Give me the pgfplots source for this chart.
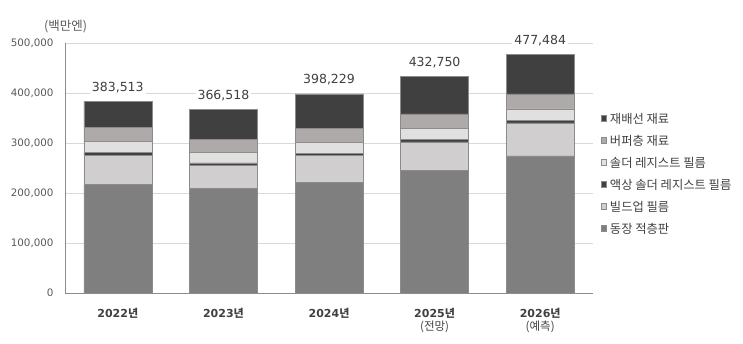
\documentclass[border=0pt]{standalone}
\usepackage{fontspec}
\setmainfont{DejaVu Sans}
\newfontfamily\kr{Noto Sans CJK KR}
\usepackage{pgfplots}
\usepackage{pgfplotstable}
\pgfplotsset{compat=1.18}
\definecolor{cBase}{HTML}{7F7F7F}
\definecolor{cBuild}{HTML}{D0CECE}
\definecolor{cLiquid}{HTML}{404040}
\definecolor{cFilm}{HTML}{E0E0E0}
\definecolor{cBuffer}{HTML}{AEAAAA}
\definecolor{cWiring}{HTML}{404040}
\definecolor{cBorder}{HTML}{8C8C8C}
\definecolor{cText}{HTML}{404040}
\definecolor{cTick}{HTML}{595959}
\definecolor{cGrid}{HTML}{D9D9D9}

% lift = half of the wiring segment height (in pt) + 14pt, to set the total above the bar
\pgfplotstableread{
x base buildup liquid film buffer wiring total lift
0 216600 58800 5200 22000 28800 52113 383,513 27.03
1 210000 45400 4600 21400 26000 59118 366,518 28.78
2 222000 52600 4000 22800 28000 68829 398,229 31.21
3 244600 57400 5400 22000 28600 74750 432,750 32.69
4 274000 66000 4600 23400 30000 79484 477,484 33.87
}\datatable

\begin{document}
\begin{tikzpicture}[x=1pt,y=1pt]
\useasboundingbox (0,0) rectangle (743,343);
\node[font=\kr\fontsize{12.5}{13}\selectfont, text=cTick] at (65.5,316) {(백만엔)};
\begin{axis}[
  at={(65pt,50pt)}, anchor=south west,
  scale only axis, width=528pt, height=250pt,
  ybar stacked, bar width=68pt,
  xmin=-0.5, xmax=4.5, ymin=0, ymax=500000,
  ytick={0,100000,200000,300000,400000,500000},
  yticklabels={0,{100,000},{200,000},{300,000},{400,000},{500,000}},
  xtick={0,1,2,3,4},
  xticklabels={
    {\bfseries 2022{\kr 년}},
    {\bfseries 2023{\kr 년}},
    {\bfseries 2024{\kr 년}},
    {\bfseries 2025{\kr 년}}\\{\kr\fontsize{11.5}{12.5}\selectfont (전망)},
    {\bfseries 2026{\kr 년}}\\{\kr\fontsize{11.5}{12.5}\selectfont (예측)}},
  xticklabel style={align=center, font=\fontsize{11}{12.5}\selectfont, text=cText, yshift=-12pt},
  yticklabel style={font=\fontsize{10.3}{12}\selectfont, text=cTick, xshift=-8pt},
  scaled y ticks=false,
  ymajorgrids, grid style={draw=cGrid, line width=0.8pt},
  axis x line*=bottom, axis y line*=left,
  x axis line style={draw=cBorder, line width=0.9pt, -},
  y axis line style={draw=cBorder, line width=0.7pt, -},
  major tick length=0pt,
  every axis plot/.append style={draw=cBorder, line width=0.6pt},
  reverse legend,
  legend cell align=left,
  legend style={at={(1.009,0.72)}, anchor=north west, draw=none, fill=none,
    font=\kr\fontsize{12.3}{13}\selectfont, text=cText,
    nodes={inner sep=0pt, text height=8pt, text depth=2pt},
    row sep=11.8pt,
    /tikz/every odd column/.append style={column sep=3pt}},
  legend image code/.code={\draw[#1, draw=cBorder, line width=0.5pt] (0pt,-0.5pt) rectangle (5.5pt,5pt);},
]
\addplot[fill=cBase] table[x=x, y=base] {\datatable};
\addlegendentry{동장 적층판}
\addplot[fill=cBuild] table[x=x, y=buildup] {\datatable};
\addlegendentry{빌드업 필름}
\addplot[fill=cLiquid] table[x=x, y=liquid] {\datatable};
\addlegendentry{액상 솔더 레지스트 필름}
\addplot[fill=cFilm] table[x=x, y=film] {\datatable};
\addlegendentry{솔더 레지스트 필름}
\addplot[fill=cBuffer] table[x=x, y=buffer] {\datatable};
\addlegendentry{버퍼층 재료}
\addplot[fill=cWiring,
  point meta=explicit symbolic,
  visualization depends on={\thisrow{lift} \as \lift},
  nodes near coords={\pgfplotspointmeta},
  every node near coord/.append style={anchor=center, yshift=\lift, fill=white, inner sep=2pt,
     font=\fontsize{12.5}{14}\selectfont, text=cText}]
  table[x=x, y=wiring, meta=total] {\datatable};
\addlegendentry{재배선 재료}
\end{axis}
\end{tikzpicture}
\end{document}
